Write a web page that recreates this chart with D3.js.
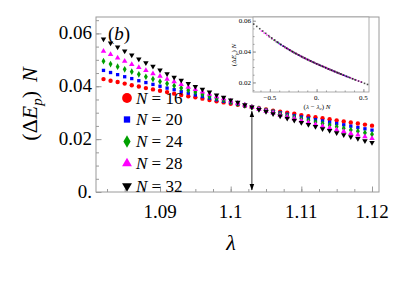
<!DOCTYPE html>
<html><head><meta charset="utf-8">
<script src="https://cdn.jsdelivr.net/npm/d3@7"></script>
<style>body{margin:0;background:#fff}svg{display:block}</style>
</head><body><svg id="c" width="406" height="281"></svg>
<script>
// ---- data ----
const lambdaValues = [1.082,1.083,1.084,1.085,1.086,1.087,1.088,1.089,1.090,1.091,1.092,1.093,1.094,1.095,1.096,1.097,1.098,1.099,1.100,1.101,1.102,1.103,1.104,1.105,1.106,1.107,1.108,1.109,1.110,1.111,1.112,1.113,1.114,1.115,1.116,1.117,1.118,1.119,1.120];
const sizesN = [16,20,24,28,32];
const gapN16 = [0.0427,0.0421,0.0416,0.0410,0.0404,0.0399,0.0393,0.0388,0.0383,0.0378,0.0372,0.0367,0.0362,0.0358,0.0353,0.0348,0.0343,0.0339,0.0334,0.0330,0.0325,0.0321,0.0317,0.0312,0.0308,0.0304,0.0300,0.0296,0.0291,0.0287,0.0283,0.0279,0.0275,0.0271,0.0267,0.0263,0.0259,0.0255,0.0251];
const gapN20 = [0.0460,0.0452,0.0444,0.0436,0.0429,0.0421,0.0414,0.0407,0.0400,0.0393,0.0387,0.0380,0.0374,0.0367,0.0361,0.0355,0.0349,0.0343,0.0338,0.0332,0.0326,0.0321,0.0316,0.0310,0.0305,0.0300,0.0294,0.0289,0.0284,0.0279,0.0274,0.0269,0.0264,0.0259,0.0254,0.0249,0.0244,0.0239,0.0234];
const gapN24 = [0.0495,0.0484,0.0474,0.0464,0.0455,0.0445,0.0436,0.0427,0.0418,0.0410,0.0402,0.0393,0.0385,0.0378,0.0370,0.0362,0.0355,0.0348,0.0341,0.0334,0.0328,0.0321,0.0315,0.0308,0.0302,0.0296,0.0289,0.0283,0.0277,0.0271,0.0265,0.0259,0.0253,0.0247,0.0241,0.0235,0.0230,0.0224,0.0218];
const gapN28 = [0.0533,0.0520,0.0507,0.0495,0.0483,0.0471,0.0460,0.0448,0.0438,0.0427,0.0417,0.0407,0.0397,0.0388,0.0379,0.0370,0.0361,0.0353,0.0345,0.0336,0.0329,0.0321,0.0313,0.0306,0.0299,0.0291,0.0284,0.0277,0.0270,0.0263,0.0256,0.0249,0.0242,0.0235,0.0229,0.0222,0.0216,0.0209,0.0203];
const gapN32 = [0.0578,0.0563,0.0548,0.0533,0.0518,0.0503,0.0489,0.0475,0.0461,0.0447,0.0434,0.0422,0.0410,0.0399,0.0388,0.0378,0.0367,0.0358,0.0348,0.0339,0.0330,0.0321,0.0312,0.0304,0.0296,0.0287,0.0279,0.0271,0.0263,0.0255,0.0247,0.0239,0.0232,0.0224,0.0216,0.0209,0.0202,0.0194,0.0187];
const lambdaC = 1.103;
const xTickValues = [1.09,1.10,1.11,1.12];
const xTickLabels = ["1.09","1.1","1.11","1.12"];
const yTickValues = [0,0.02,0.04,0.06];
const yTickLabels = ["0.","0.02","0.04","0.06"];
const insetXTickValues = [-0.5,0,0.5];
const insetXTickLabels = ["\u22120.5","0.","0.5"];
const insetYTickValues = [0.02,0.04,0.06];
const insetYTickLabels = ["0.02","0.04","0.06"];
const legendLabels = ["16","20","24","28","32"];

const seriesColors = ["#ff0000","#0000ff","#00a000","#ff00ff","#000000"];
const seriesSymbols = [d3.symbolCircle,d3.symbolSquare,d3.symbolDiamond,d3.symbolTriangle,d3.symbolTriangle];
const seriesValues = [gapN16,gapN20,gapN24,gapN28,gapN32];

const svg = d3.select("#c");
const serif = "Liberation Serif, DejaVu Serif, Noto Serif, Times New Roman, serif";
const frameColor = "#9a9a9a";

// ---- main plot ----
const L=96,R=379,T=17,B=192;
const x = d3.scaleLinear().domain([1.08094,1.12099]).range([L,R]);
const y = d3.scaleLinear().domain([0,0.0662]).range([B,T]);

function minorRange(a,b,s){const r=[];for(let v=a;v<=b+1e-9;v+=s)r.push(+v.toFixed(6));return r;}

svg.append("rect").attr("x",L).attr("y",T).attr("width",R-L).attr("height",B-T)
  .attr("fill","none").attr("stroke",frameColor).attr("stroke-width",1);

const gx = svg.append("g").attr("transform",`translate(0,${B})`);
gx.call(d3.axisBottom(x).tickValues(minorRange(1.0825,1.12,0.0025)).tickSize(-3).tickFormat(""));
const gx2 = svg.append("g").attr("transform",`translate(0,${B})`);
gx2.call(d3.axisBottom(x).tickValues(xTickValues).tickSize(-5.5).tickFormat(""));
const gy = svg.append("g").attr("transform",`translate(${L},0)`);
gy.call(d3.axisLeft(y).tickValues(minorRange(0.005,0.065,0.005)).tickSize(-3).tickFormat(""));
const gy2 = svg.append("g").attr("transform",`translate(${L},0)`);
gy2.call(d3.axisLeft(y).tickValues(yTickValues).tickSize(-5.5).tickFormat(""));
svg.selectAll(".domain").remove();
svg.selectAll(".tick line").attr("stroke",frameColor);

svg.append("g").selectAll("text").data(xTickValues).join("text")
  .attr("x",d=>x(d)).attr("y",218).attr("text-anchor","middle")
  .style("font-family",serif).attr("font-size",19).text((d,i)=>xTickLabels[i]);
svg.append("g").selectAll("text").data(yTickValues).join("text")
  .attr("x",92).attr("y",d=>y(d)+6).attr("text-anchor","end")
  .style("font-family",serif).attr("font-size",19).text((d,i)=>yTickLabels[i]);

// axis labels
svg.append("text").attr("x",231).attr("y",250).attr("text-anchor","middle")
  .style("font-family",serif).attr("font-size",22).attr("font-style","italic").text("\u03bb");
const yl = svg.append("text").attr("transform","translate(37,104) rotate(-90)")
  .attr("text-anchor","middle").style("font-family",serif).attr("font-size",22);
yl.append("tspan").text("(\u0394");
yl.append("tspan").attr("font-style","italic").text("E");
yl.append("tspan").attr("font-style","italic").attr("font-size",15).attr("dy",5).text("p");
yl.append("tspan").attr("dy",-5).text(")\u2009\u2009");
yl.append("tspan").attr("font-style","italic").text("N");

// panel label
const pl = svg.append("text").attr("x",108).attr("y",40).style("font-family",serif).attr("font-size",19);
pl.append("tspan").text("(");
pl.append("tspan").attr("font-style","italic").text("b");
pl.append("tspan").text(")");

// data points
const dataSizes = [15,11,13,13,13];
seriesValues.forEach((vals,si)=>{
  const sym = d3.symbol().type(seriesSymbols[si]).size(dataSizes[si]);
  svg.append("g").selectAll("path").data(vals).join("path")
    .attr("transform",(d,i)=>`translate(${x(lambdaValues[i])},${y(d)})${si===4?" rotate(180)":""}`)
    .attr("d",sym).attr("fill",seriesColors[si]);
});

// arrow at lambda_c
const ax = x(lambdaC);
svg.append("defs").html('<marker id="ah" viewBox="0 0 10 10" refX="9" refY="5" markerWidth="6" markerHeight="6" orient="auto-start-reverse"><path d="M0,1.5 L10,5 L0,8.5 z" fill="#000"/></marker>');
svg.append("line").attr("x1",ax).attr("x2",ax).attr("y1",y(0.0305)).attr("y2",y(0.0008))
  .attr("stroke","#444").attr("stroke-width",1.1)
  .attr("marker-start","url(#ah)").attr("marker-end","url(#ah)");

// legend
const legY = [98,119.5,141.5,163.5,186];
const legSizes = [75,40,45,42,42];
legendLabels.forEach((lab,i)=>{
  svg.append("path").attr("transform",`translate(127,${legY[i]})${i===4?" rotate(180)":""}`)
    .attr("d",d3.symbol().type(seriesSymbols[i]).size(legSizes[i])).attr("fill",seriesColors[i]);
  const t = svg.append("text").attr("x",136).attr("y",legY[i]+5.5).style("font-family",serif).attr("font-size",17);
  t.append("tspan").attr("font-style","italic").text("N");
  t.append("tspan").text(" = "+lab);
});

// ---- inset ----
const iL=253,iR=369,iT=17,iB=92;
const ix = d3.scaleLinear().domain([-0.68,0.56]).range([iL,iR]);
const iy = d3.scaleLinear().domain([0.0138,0.0624]).range([iB,iT]);
svg.append("rect").attr("x",iL).attr("y",iT).attr("width",iR-iL).attr("height",iB-iT)
  .attr("fill","#fff").attr("stroke",frameColor).attr("stroke-width",0.8);
const igx = svg.append("g").attr("transform",`translate(0,${iB})`);
igx.call(d3.axisBottom(ix).tickValues(minorRange(-0.6,0.5,0.1)).tickSize(-1.5).tickFormat(""));
const igx2 = svg.append("g").attr("transform",`translate(0,${iB})`);
igx2.call(d3.axisBottom(ix).tickValues(insetXTickValues).tickSize(-3).tickFormat(""));
const igy = svg.append("g").attr("transform",`translate(${iL},0)`);
igy.call(d3.axisLeft(iy).tickValues(minorRange(0.015,0.06,0.005)).tickSize(-1.5).tickFormat(""));
const igy2 = svg.append("g").attr("transform",`translate(${iL},0)`);
igy2.call(d3.axisLeft(iy).tickValues(insetYTickValues).tickSize(-3).tickFormat(""));
svg.selectAll(".domain").remove();
svg.selectAll(".tick line").attr("stroke",frameColor);

svg.append("g").selectAll("text").data(insetXTickValues).join("text")
  .attr("x",d=>ix(d)).attr("y",99.5).attr("text-anchor","middle")
  .style("font-family",serif).attr("font-size",7).text((d,i)=>insetXTickLabels[i]);
svg.append("g").selectAll("text").data(insetYTickValues).join("text")
  .attr("x",251).attr("y",d=>iy(d)+2.5).attr("text-anchor","end")
  .style("font-family",serif).attr("font-size",7).text((d,i)=>insetYTickLabels[i]);
const ixl = svg.append("text").attr("x",317).attr("y",108.5).attr("text-anchor","middle")
  .style("font-family",serif).attr("font-size",7);
ixl.append("tspan").text("(");
ixl.append("tspan").attr("font-style","italic").text("\u03bb");
ixl.append("tspan").text(" \u2212 ");
ixl.append("tspan").attr("font-style","italic").text("\u03bb");
ixl.append("tspan").attr("font-style","italic").attr("font-size",5).attr("dy",1.5).text("c");
ixl.append("tspan").attr("dy",-1.5).text(") ");
ixl.append("tspan").attr("font-style","italic").text("N");
const iyl = svg.append("text").attr("transform","translate(236,55) rotate(-90)")
  .attr("text-anchor","middle").style("font-family",serif).attr("font-size",7);
iyl.append("tspan").text("(\u0394");
iyl.append("tspan").attr("font-style","italic").text("E");
iyl.append("tspan").attr("font-style","italic").attr("font-size",5).attr("dy",1.5).text("p");
iyl.append("tspan").attr("dy",-1.5).text(") ");
iyl.append("tspan").attr("font-style","italic").text("N");

seriesValues.forEach((vals,si)=>{
  svg.append("g").selectAll("rect").data(vals).join("rect")
    .attr("x",(d,i)=>ix((lambdaValues[i]-lambdaC)*sizesN[si])-0.8)
    .attr("y",d=>iy(d)-0.8).attr("width",1.6).attr("height",1.6)
    .attr("fill",seriesColors[si]).attr("opacity",0.7);
});
</script></body></html>
